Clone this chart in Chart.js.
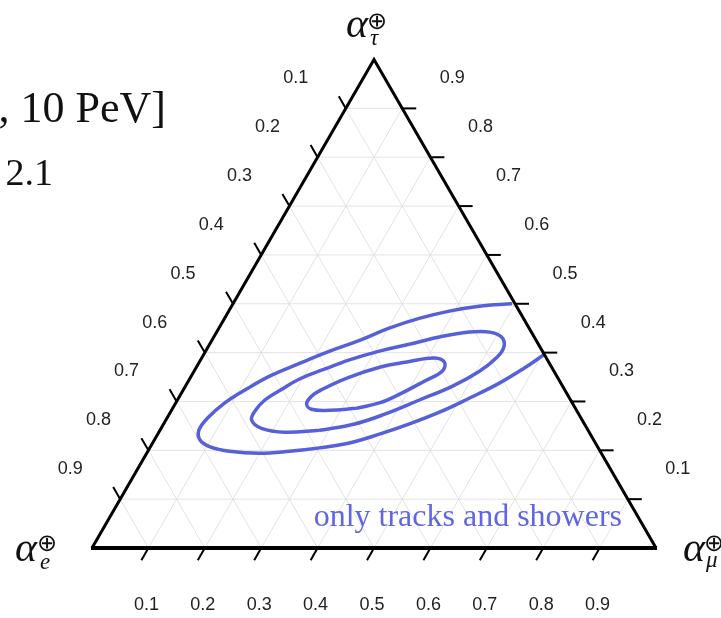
<!DOCTYPE html>
<html>
<head>
<meta charset="utf-8">
<script src="https://cdn.jsdelivr.net/npm/chart.js@4/dist/chart.umd.min.js"></script>
<style>
  html, body { margin: 0; padding: 0; background: #fff; overflow: hidden; }
  canvas { display: block; }
</style>
</head>
<body>
<canvas id="tern" width="721" height="618"></canvas>
<script>
// Ternary grid: tick positions and their labels (same on all three sides)
const tickValues = [0.1, 0.2, 0.3, 0.4, 0.5, 0.6, 0.7, 0.8, 0.9];
const tickLabels = ['0.1', '0.2', '0.3', '0.4', '0.5', '0.6', '0.7', '0.8', '0.9'];

// Contours of the flavour composition, given as (alpha_mu, alpha_tau) fractions;
// alpha_e = 1 - alpha_mu - alpha_tau
const outerMu  = [0.495, 0.439, 0.391, 0.345, 0.302, 0.262, 0.220, 0.179, 0.139, 0.109, 0.087, 0.072, 0.069, 0.081, 0.106, 0.145, 0.200, 0.251, 0.301, 0.349, 0.393, 0.436, 0.477, 0.516, 0.553, 0.582, 0.603];
const outerTau = [0.500, 0.495, 0.485, 0.470, 0.450, 0.425, 0.403, 0.378, 0.352, 0.323, 0.297, 0.266, 0.241, 0.221, 0.207, 0.198, 0.194, 0.198, 0.205, 0.215, 0.233, 0.254, 0.278, 0.307, 0.337, 0.368, 0.395];

const middleMu  = [0.283, 0.339, 0.382, 0.429, 0.473, 0.506, 0.523, 0.524, 0.510, 0.484, 0.448, 0.400, 0.354, 0.308, 0.264, 0.229, 0.195, 0.172, 0.155, 0.149, 0.152, 0.178, 0.223, 0.283];
const middleTau = [0.241, 0.254, 0.274, 0.303, 0.331, 0.362, 0.391, 0.413, 0.432, 0.442, 0.442, 0.432, 0.417, 0.403, 0.385, 0.366, 0.346, 0.323, 0.303, 0.282, 0.262, 0.245, 0.237, 0.241];

const innerMu  = [0.326, 0.361, 0.388, 0.419, 0.440, 0.435, 0.413, 0.372, 0.325, 0.278, 0.246, 0.234, 0.233, 0.247, 0.280, 0.326];
const innerTau = [0.286, 0.297, 0.315, 0.342, 0.362, 0.380, 0.389, 0.382, 0.370, 0.348, 0.325, 0.311, 0.295, 0.284, 0.282, 0.286];

const H = Math.sqrt(3) / 2;
// Cartesian position of a composition inside the unit equilateral triangle
function toXY(mu, tau) { return { x: mu + tau / 2, y: tau * H }; }
function series(mu, tau) { return mu.map((m, i) => toXY(m, tau[i])); }

const lineColor = '#5660d8';

const ternaryFrame = {
  id: 'ternaryFrame',
  beforeDatasetsDraw(chart) {
    const { ctx, scales: { x: xs, y: ys } } = chart;
    const P = (mu, tau) => { const q = toXY(mu, tau); return [xs.getPixelForValue(q.x), ys.getPixelForValue(q.y)]; };
    ctx.save();
    ctx.strokeStyle = '#dcdcdc';
    ctx.lineWidth = 0.8;
    tickValues.forEach(v => {
      const segs = [
        [P(0, v), P(1 - v, v)],       // constant alpha_tau
        [P(v, 0), P(v, 1 - v)],       // constant alpha_mu
        [P(1 - v, 0), P(0, 1 - v)]    // constant alpha_e
      ];
      segs.forEach(([a, b]) => {
        ctx.beginPath(); ctx.moveTo(a[0], a[1]); ctx.lineTo(b[0], b[1]); ctx.stroke();
      });
    });
    ctx.restore();
  },
  afterDatasetsDraw(chart) {
    const { ctx, scales: { x: xs, y: ys } } = chart;
    const P = (mu, tau) => { const q = toXY(mu, tau); return [xs.getPixelForValue(q.x), ys.getPixelForValue(q.y)]; };
    const A = P(0, 0), B = P(1, 0), C = P(0, 1);
    ctx.save();
    // triangle outline
    ctx.strokeStyle = '#000';
    ctx.lineJoin = 'miter';
    ctx.lineWidth = 3;
    ctx.beginPath(); ctx.moveTo(A[0], A[1]); ctx.lineTo(C[0], C[1]); ctx.lineTo(B[0], B[1]); ctx.stroke();
    ctx.lineWidth = 4;
    ctx.beginPath(); ctx.moveTo(A[0] - 1, A[1]); ctx.lineTo(B[0] + 1, B[1]); ctx.stroke();

    // ticks and tick labels
    const L = 14;
    ctx.lineWidth = 2;
    ctx.fillStyle = '#222';
    ctx.font = '18px "Liberation Sans", Arial, sans-serif';
    ctx.textAlign = 'center';
    ctx.textBaseline = 'middle';
    tickValues.forEach((v, i) => {
      // alpha_mu along the bottom side
      let p = P(v, 0);
      ctx.beginPath(); ctx.moveTo(p[0], p[1]); ctx.lineTo(p[0] - L * 0.5, p[1] + L * H); ctx.stroke();
      ctx.fillText(tickLabels[i], p[0] - 2, p[1] + 57);
      // alpha_tau along the right side
      p = P(1 - v, v);
      ctx.beginPath(); ctx.moveTo(p[0], p[1]); ctx.lineTo(p[0] + L, p[1]); ctx.stroke();
      ctx.fillText(tickLabels[i], p[0] + 50, p[1] - 30);
      // alpha_e along the left side
      p = P(0, 1 - v);
      ctx.beginPath(); ctx.moveTo(p[0], p[1]); ctx.lineTo(p[0] - L * 0.5, p[1] - L * H); ctx.stroke();
      ctx.fillText(tickLabels[i], p[0] - 50, p[1] - 30);
    });

    // corner titles: alpha with an oplus superscript and a flavour subscript
    const title = (ax, base, ox, oy, sub, sx, sb) => {
      ctx.fillStyle = '#111';
      ctx.textAlign = 'left';
      ctx.textBaseline = 'alphabetic';
      ctx.font = 'italic 42px "Liberation Serif", "Times New Roman", serif';
      ctx.fillText('\u03b1', ax, base);
      ctx.font = 'italic 23px "Liberation Serif", "Times New Roman", serif';
      ctx.fillText(sub, sx, sb);
      ctx.textAlign = 'center';
      ctx.textBaseline = 'middle';
      ctx.font = '24px "DejaVu Sans", sans-serif';
      ctx.fillText('\u2295', ox, oy);
    };
    title(346, 37, 377, 23, '\u03c4', 370, 45);
    title(15, 561, 47, 545, 'e', 40, 569);
    title(683, 561, 714, 545, '\u03bc', 706, 567);

    // annotation
    ctx.textAlign = 'right';
    ctx.textBaseline = 'alphabetic';
    ctx.fillStyle = '#5f67e0';
    ctx.font = '32px "Liberation Serif", "Times New Roman", serif';
    ctx.fillText('only tracks and showers', 622, 526);

    // header text at the upper left
    ctx.fillStyle = '#111';
    ctx.font = '44px "Liberation Serif", "Times New Roman", serif';
    ctx.fillText(', 10 PeV]', 166, 122);
    ctx.font = '38px "Liberation Serif", "Times New Roman", serif';
    ctx.fillText('2.1', 53, 185);
    ctx.restore();
  }
};

const lineStyle = { borderColor: lineColor, borderWidth: 3.5, pointRadius: 0, showLine: true, fill: false, tension: 0.4 };

new Chart(document.getElementById('tern'), {
  type: 'scatter',
  data: {
    datasets: [
      Object.assign({ label: 'outer', data: series(outerMu, outerTau) }, lineStyle),
      Object.assign({ label: 'middle', data: series(middleMu, middleTau) }, lineStyle),
      Object.assign({ label: 'inner', data: series(innerMu, innerTau) }, lineStyle)
    ]
  },
  options: {
    responsive: false,
    animation: false,
    events: [],
    layout: { padding: 0, autoPadding: false },
    scales: {
      x: { type: 'linear', display: false, min: -0.1631, max: 1.1152 },
      y: { type: 'linear', display: false, min: -0.1241, max: 0.9716 }
    },
    plugins: { legend: { display: false }, tooltip: { enabled: false } }
  },
  plugins: [ternaryFrame]
});
</script>
</body>
</html>
